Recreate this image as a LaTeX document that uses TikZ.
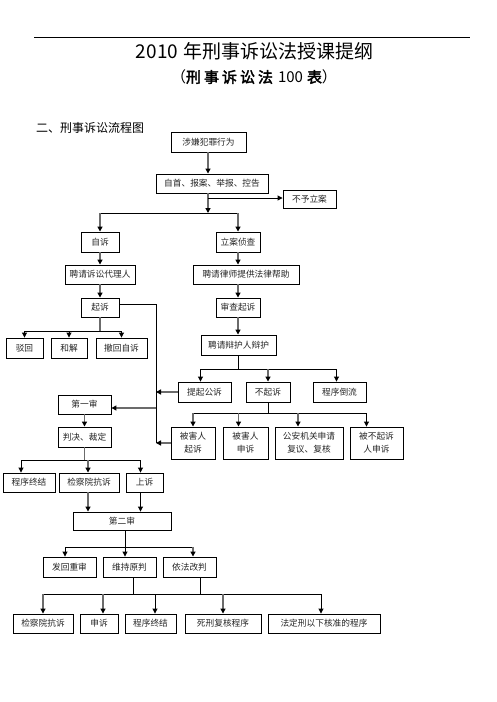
\documentclass[tikz,border=0pt]{standalone}
\usepackage{fontspec}
\setmainfont{Noto Sans CJK SC}[AutoFakeBold=2.5]
\usetikzlibrary{arrows.meta,calc}
\newcommand\bx[6]{\node[box, minimum width=#4, minimum height=#5] (#1) at ({#2+#4/2},{#3+#5/2}) {#6};}
\newcommand\darr[4]{\draw[#1,arr] ($(#2.north|-#3)+(#4,0)$) -- ($(#2.north)+(#4,0)$);}
\begin{document}
\begin{tikzpicture}[x=1pt,y=-1pt,
  box/.style={draw, line width=0.9pt, inner sep=0pt, align=center, font=\fontsize{8.7}{13}\selectfont, text=black!85},
  ln/.style={line width=0.9pt, black},
  gl/.style={line width=1.7pt, black!58},
  arr/.style={-{Triangle[length=5pt,width=5pt,color=black]}},
  ttl/.style={inner sep=0pt}]
\fill[white] (0,0) rectangle (496,702);
\useasboundingbox (0,0) rectangle (496,702);
% header
\draw[line width=0.8pt] (34,37) -- (470,37);
\node[ttl, font=\fontsize{19}{19}\selectfont] (title) at (254.5,51) {2010\hspace{5pt}年刑事诉讼法授课提纲};
\node[ttl, font=\fontsize{15}{15}\selectfont] (sub) at (254,77) {（\textbf{刑\kern3pt 事\kern3pt 诉\kern3pt 讼\kern3pt 法}\hspace{5pt}100\hspace{4pt}\textbf{表}）};
\node[ttl, anchor=west, font=\fontsize{12}{12}\selectfont] (head) at (36,128) {二、刑事诉讼流程图};
% boxes
\bx{she}{171}{132}{75}{20}{涉嫌犯罪行为}
\bx{zishou}{156}{174}{112}{19}{自首、报案、举报、控告}
\bx{buyu}{283}{190}{53}{18}{不予立案}
\bx{zisu}{81}{232}{38}{20}{自诉}
\bx{lian}{216}{232}{44}{20}{立案侦查}
\bx{daili}{65}{265}{70}{19}{聘请诉讼代理人}
\bx{lvshi}{193}{265}{106}{19}{聘请律师提供法律帮助}
\bx{qisu}{81}{298}{38}{19}{起诉}
\bx{shencha}{216}{298}{44}{19}{审查起诉}
\bx{bohui}{6}{338}{37}{20}{驳回}
\bx{hejie}{51}{338}{36}{20}{和解}
\bx{chehui}{96}{338}{51}{20}{撤回自诉}
\bx{bianhu}{201}{335}{75}{20}{聘请辩护人辩护}
\bx{tiqi}{178}{382}{53}{20}{提起公诉}
\bx{buqisu}{246}{382}{44}{20}{不起诉}
\bx{daoliu}{313}{382}{53}{20}{程序倒流}
\bx{bhqs}{171}{427}{44}{32}{被害人\\起诉}
\bx{bhss}{223}{427}{45}{32}{被害人\\申诉}
\bx{gongan}{275}{427}{68}{32}{公安机关申请\\复议、复核}
\bx{bbqs}{350}{427}{53}{32}{被不起诉\\人申诉}
\bx{yishen}{58}{395}{53}{19}{第一审}
\bx{panjue}{58}{427}{53}{20}{判决、裁定}
\bx{zhongjie1}{3}{473}{52}{19}{程序终结}
\bx{kangsu1}{59}{473}{60}{19}{检察院抗诉}
\bx{shangsu}{126}{473}{37}{19}{上诉}
\bx{ershen}{73}{512}{98}{18}{第二审}
\bx{fahui}{43}{557}{53}{20}{发回重审}
\bx{weichi}{103}{557}{53}{20}{维持原判}
\bx{gaipan}{163}{557}{53}{20}{依法改判}
\bx{kangsu2}{13}{614}{60}{19}{检察院抗诉}
\bx{shensu}{80}{614}{38}{19}{申诉}
\bx{zhongjie2}{125}{614}{51}{19}{程序终结}
\bx{sixing}{185}{614}{76}{19}{死刑复核程序}
\bx{fading}{268}{614}{112}{19}{法定刑以下核准的程序}
% junctions
\coordinate (j0) at (208,198);
\coordinate (j1) at (208,213);
\coordinate (j2) at (100,331);
\coordinate (vx) at (156,304);
\coordinate (j3) at (156,408);
\coordinate (j4) at (238,369);
\coordinate (j5) at (268,413);
\coordinate (j6) at (84.5,460);
\coordinate (j7) at (125,547);
\coordinate (j8) at (133,594);
% top part
\draw[gl,arr] (she.south -| j1) -- (zishou.north -| j1);
\draw[gl,arr] (zishou.south -| j1) -- (j1);
\draw[ln,arr] (j0) -- (j0 -| buyu.west);
\draw[ln] (zisu.north |- j1) -- (lian.north |- j1);
\draw[gl,arr] (zisu.north |- j1) -- (zisu.north);
\draw[gl,arr] (lian.north |- j1) -- (lian.north);
% left column
\draw[gl,arr] (zisu.south) -- (zisu.south |- daili.north);
\draw[gl,arr] (daili.south -| qisu.north) -- (qisu.north);
\draw[gl] (qisu.south) -- (qisu.south |- j2);
\draw[ln] (bohui.north |- j2) -- (chehui.north |- j2);
\foreach \n in {bohui,hejie,chehui} \draw[ln,arr] (\n.north |- j2) -- (\n.north);
\draw[ln] (qisu.east |- vx) -- (vx) -- (vx |- bhqs.west);
\draw[gl,arr] (tiqi.west) -- (tiqi.west -| vx);
\draw[gl,arr] (bhqs.west) -- (bhqs.west -| vx);
\draw[gl,arr] (j3) -- (j3 -| yishen.east);
% right column
\draw[gl,arr] (lian.south) -- (lian.south |- lvshi.north);
\draw[gl,arr] (lvshi.south -| shencha.north) -- (shencha.north);
\draw[gl,arr] (shencha.south) -- (shencha.south |- bianhu.north);
\draw[ln] (bianhu.south -| j4) -- (j4);
\draw[ln] ($(tiqi.north |- j4)+(-4,0)$) -- ($(daoliu.north |- j4)+(-3,0)$);
\darr{ln}{tiqi}{j4}{-4}
\darr{gl}{buqisu}{j4}{0}
\darr{ln}{daoliu}{j4}{-3}
\draw[ln] (buqisu.south) -- (buqisu.south |- j5);
\draw[ln] (bhqs.north |- j5) -- ($(bbqs.north |- j5)+(-10,0)$);
\darr{gl}{bhqs}{j5}{0}
\darr{gl}{bhss}{j5}{-7}
\darr{gl}{gongan}{j5}{-11}
\darr{ln}{bbqs}{j5}{-10}
% first instance
\draw[gl,arr] (yishen.south) -- (panjue.north);
\draw[gl] (panjue.south) -- (j6);
\draw[ln] ($(zhongjie1.north |- j6)+(-8,0)$) -- ($(shangsu.north |- j6)+(-4,0)$);
\darr{ln}{zhongjie1}{j6}{-8}
\darr{gl}{kangsu1}{j6}{-1}
\darr{ln}{shangsu}{j6}{-4}
\draw[gl,arr] ($(kangsu1.south)+(-1,0)$) -- ($(kangsu1.south |- ershen.north)+(-1,0)$);
\draw[ln,arr] ($(shangsu.south)+(-4,0)$) -- ($(shangsu.south |- ershen.north)+(-4,0)$);
% second instance
\draw[ln] (ershen.south -| j7) -- (j7);
\draw[ln] ($(fahui.north |- j7)+(-4.5,0)$) -- ($(gaipan.north |- j7)+(3.5,0)$);
\darr{ln}{fahui}{j7}{-4.5}
\darr{ln}{weichi}{j7}{-4.5}
\darr{gl}{gaipan}{j7}{3.5}
\draw[ln] ($(weichi.south)+(3.5,0)$) -- ($(weichi.south |- j8)+(3.5,0)$);
\draw[ln] ($(gaipan.south)+(10.5,0)$) -- ($(gaipan.south |- j8)+(10.5,0)$);
\draw[ln] (kangsu2.north |- j8) -- ($(fading.north |- j8)+(-3,0)$);
\darr{gl}{kangsu2}{j8}{0}
\darr{gl}{shensu}{j8}{4}
\darr{ln}{zhongjie2}{j8}{4.5}
\darr{gl}{sixing}{j8}{0}
\darr{ln}{fading}{j8}{-3}
\end{tikzpicture}
\end{document}
